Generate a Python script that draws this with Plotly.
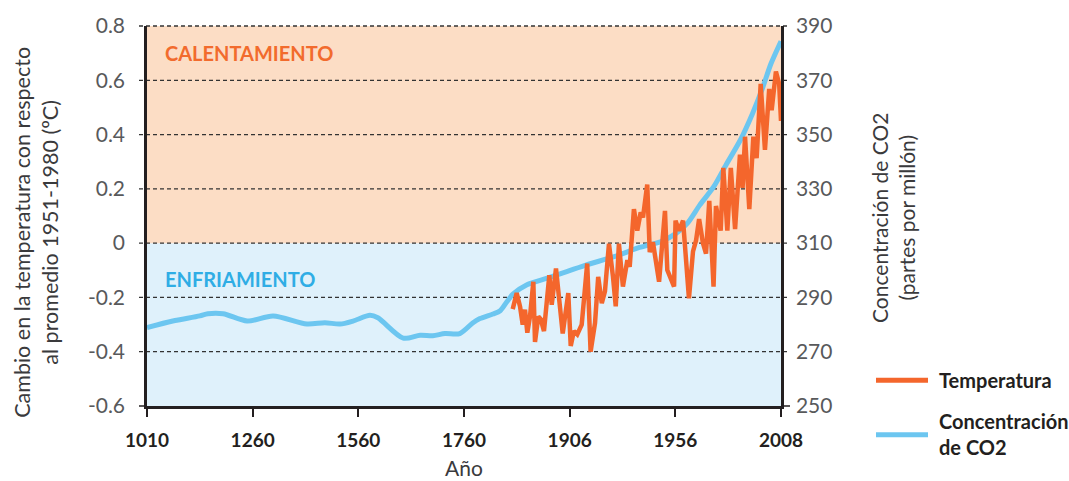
import numpy as np
import plotly.graph_objects as go

# ---------------- data ----------------
TICK_YEARS = [1010, 1260, 1560, 1760, 1906, 1956, 2008]
TEMP_TICKS = [-0.6, -0.4, -0.2, 0, 0.2, 0.4, 0.6, 0.8]
TEMP_LABELS = ["-0.6", "-0.4", "-0.2", "0", "0.2", "0.4", "0.6", "0.8"]
CO2_TICKS = [250, 270, 290, 310, 330, 350, 370, 390]

co2_years = [1010, 1071, 1135, 1154, 1190, 1247, 1318, 1414, 1465, 1508, 1545,
             1582, 1597, 1645, 1677, 1701, 1724, 1752, 1772, 1782, 1800, 1810,
             1819, 1828, 1847, 1875, 1902, 1914, 1927, 1939, 1949, 1956, 1962,
             1968, 1975, 1981, 1988, 1994, 1999, 2003, 2008]
co2_ppm = [278.9, 281.3, 283.2, 284.0, 284.0, 281.3, 283.2, 280.2, 280.7, 280.2, 281.3,
           283.4, 282.5, 275.0, 276.1, 275.9, 276.7, 276.7, 280.6, 282.2, 283.9, 285.1,
           288.3, 291.3, 294.7, 297.1, 299.5, 302.0, 305.0, 308.4, 310.5, 313.4, 317.4,
           324.0, 330.9, 338.9, 348.0, 357.8, 367.3, 376.0, 384.4]

temp_years = [1827.3, 1832.8, 1837.4, 1841.1, 1844.3, 1847.5, 1851.2, 1855.8, 1858.1,
              1862.7, 1866.0, 1870.5, 1877.9, 1881.2, 1887.1, 1891.7, 1896.4, 1904.1,
              1906.5, 1908.0, 1909.6, 1911.7, 1914.3, 1915.9, 1918.0, 1919.5, 1921.2,
              1922.7, 1924.6, 1926.5, 1927.8, 1929.3, 1931.2, 1933.3, 1934.4, 1936.4,
              1938.0, 1939.6, 1940.7, 1942.7, 1943.9, 1945.4, 1948.3, 1951.1, 1952.2,
              1955.4, 1956.1, 1957.8, 1959.8, 1962.7, 1964.7, 1966.2, 1967.7, 1969.6,
              1971.1, 1972.7, 1974.8, 1976.0, 1978.3, 1979.6, 1981.6, 1983.3, 1985.4,
              1987.8, 1989.1, 1990.3, 1992.4, 1994.4, 1996.0, 1998.0, 2000.1, 2002.2,
              2003.4, 2005.5, 2007.1, 2008.0]
temp_vals = [-0.243, -0.184, -0.233, -0.300, -0.245, -0.330, -0.270, -0.142, -0.364,
             -0.270, -0.280, -0.324, -0.118, -0.227, -0.093, -0.233, -0.333, -0.184,
             -0.379, -0.324, -0.336, -0.300, -0.075, -0.400, -0.294, -0.124, -0.221,
             -0.178, -0.002, -0.124, -0.233, -0.002, -0.160, -0.063, -0.087, 0.125,
             0.046, 0.113, 0.095, 0.216, -0.033, 0.004, -0.142, 0.119, -0.099,
             -0.160, 0.083, 0.046, 0.083, -0.203, -0.030, 0.010, 0.089, 0.000,
             -0.039, 0.156, -0.160, 0.137, 0.046, 0.277, 0.046, 0.277, 0.052,
             0.326, 0.204, 0.392, 0.125, 0.392, 0.313, 0.587, 0.344, 0.568,
             0.490, 0.632, 0.587, 0.450]

# ---------------- style ----------------
FONT = "Lato"
DARK = "#231F20"
GRAY = "#58595B"
ORANGE = "#F4662C"
BLUE = "#6CC6F0"
PEACH = "#FCDDC5"
ICE = "#DFF1FB"

W, H = 1069, 481
ML, MR, MT, MB = 147, 288, 22, 75
PW, PH = W - ML - MR, H - MT - MB


def px_x(px):
    return (px - ML) / PW


def px_y(py):
    return (H - MB - py) / PH


def pos(years):
    return np.interp(years, TICK_YEARS, np.arange(len(TICK_YEARS)))


tmin, tmax = TEMP_TICKS[0], TEMP_TICKS[-1]


def tfrac(v):
    return (v - tmin) / (tmax - tmin)


fig = go.Figure()
fig.add_trace(go.Scatter(x=pos(co2_years), y=co2_ppm, yaxis="y", mode="lines",
                         line=dict(color=BLUE, width=5, shape="spline", smoothing=0.8),
                         name="Concentración de CO2", showlegend=False, hoverinfo="skip"))
fig.add_trace(go.Scatter(x=pos(temp_years), y=temp_vals, yaxis="y2", mode="lines",
                         line=dict(color=ORANGE, width=4.5),
                         name="Temperatura", showlegend=False, hoverinfo="skip"))

shapes = []
# background zones
shapes.append(dict(type="rect", xref="paper", yref="paper", x0=0, x1=1, y0=0, y1=tfrac(0),
                   fillcolor=ICE, line=dict(width=0), layer="below"))
shapes.append(dict(type="rect", xref="paper", yref="paper", x0=0, x1=1, y0=tfrac(0), y1=1,
                   fillcolor=PEACH, line=dict(width=0), layer="below"))
# dashed grid lines extending past both axes
ext_l, ext_r = -8 / PW, 1 + 9 / PW
for v in TEMP_TICKS[1:]:
    shapes.append(dict(type="line", xref="paper", yref="paper", x0=ext_l, x1=ext_r,
                       y0=tfrac(v), y1=tfrac(v),
                       line=dict(color="#333333", width=1.3, dash="4px,3px"), layer="below"))
# solid stubs at the bottom
shapes.append(dict(type="line", xref="paper", yref="paper", x0=ext_l, x1=0, y0=0, y1=0,
                   line=dict(color=DARK, width=1.5)))
shapes.append(dict(type="line", xref="paper", yref="paper", x0=1, x1=ext_r, y0=0, y1=0,
                   line=dict(color=DARK, width=1.5)))
# custom legend line samples
shapes.append(dict(type="line", xref="paper", yref="paper", x0=px_x(876), x1=px_x(928),
                   y0=px_y(380), y1=px_y(380), line=dict(color=ORANGE, width=5)))
shapes.append(dict(type="line", xref="paper", yref="paper", x0=px_x(876), x1=px_x(928),
                   y0=px_y(435), y1=px_y(435), line=dict(color=BLUE, width=5)))

annotations = [
    dict(text="CALENTAMIENTO", x=px_x(163), y=px_y(49), xref="paper", yref="paper",
         xanchor="left", yanchor="middle", showarrow=False,
         font=dict(family=FONT, size=20, color="#F26B2D", weight="bold")),
    dict(text="ENFRIAMIENTO", x=px_x(163), y=px_y(278), xref="paper", yref="paper",
         xanchor="left", yanchor="middle", showarrow=False,
         font=dict(family=FONT, size=20, color="#2FADE5", weight="bold")),
    dict(text="Cambio en la temperatura con respecto<br>al promedio 1951-1980 (ºC)",
         x=px_x(36), y=px_y(231), xref="paper", yref="paper", textangle=-90,
         xanchor="center", yanchor="middle", showarrow=False,
         font=dict(family=FONT, size=21.5, color="#3A3A3C")),
    dict(text="Concentración de CO2<br>(partes por millón)",
         x=px_x(893), y=px_y(216), xref="paper", yref="paper", textangle=-90,
         xanchor="center", yanchor="middle", showarrow=False,
         font=dict(family=FONT, size=21, color="#3A3A3C")),
    dict(text="Temperatura", x=px_x(937), y=px_y(380), xref="paper", yref="paper",
         xanchor="left", yanchor="middle", showarrow=False, align="left",
         font=dict(family=FONT, size=20, color=DARK, weight="bold")),
    dict(text="Concentración<br>de CO2", x=px_x(937), y=px_y(434), xref="paper", yref="paper",
         xanchor="left", yanchor="middle", showarrow=False, align="left",
         font=dict(family=FONT, size=20, color=DARK, weight="bold")),
    dict(text="Año", x=0.5, y=px_y(468), xref="paper", yref="paper",
         xanchor="center", yanchor="middle", showarrow=False,
         font=dict(family=FONT, size=21, color="#3A3A3C")),
]

fig.update_layout(
    width=W, height=H,
    margin=dict(l=ML, r=MR, t=MT, b=MB, pad=0),
    paper_bgcolor="white", plot_bgcolor="rgba(0,0,0,0)",
    showlegend=False,
    shapes=shapes, annotations=annotations,
    font=dict(family=FONT),
    xaxis=dict(range=[0, len(TICK_YEARS) - 1], tickvals=list(range(len(TICK_YEARS))),
               ticktext=[str(y) for y in TICK_YEARS], showgrid=False, zeroline=False,
               showline=True, linecolor=DARK, linewidth=2.5,
               ticks="outside", ticklen=8, tickwidth=2, tickcolor=DARK,
               ticklabelstandoff=7,
               tickfont=dict(family=FONT, size=19, color=DARK, weight="bold")),
    yaxis=dict(range=[CO2_TICKS[0], CO2_TICKS[-1]], tickvals=CO2_TICKS, side="right",
               showgrid=False, zeroline=False, showline=True, linecolor=DARK, linewidth=2.5,
               ticks="", ticklabelstandoff=8,
               tickfont=dict(family=FONT, size=21, color=GRAY)),
    yaxis2=dict(range=[tmin, tmax], tickvals=TEMP_TICKS, ticktext=TEMP_LABELS,
                overlaying="y", side="left",
                showgrid=False, zeroline=False, showline=True, linecolor=DARK, linewidth=2.5,
                ticks="", ticklabelstandoff=15,
                tickfont=dict(family=FONT, size=21, color=GRAY)),
)

fig.write_html("out.html", config={"displayModeBar": False},
               post_script="document.body.style.margin='0';")
